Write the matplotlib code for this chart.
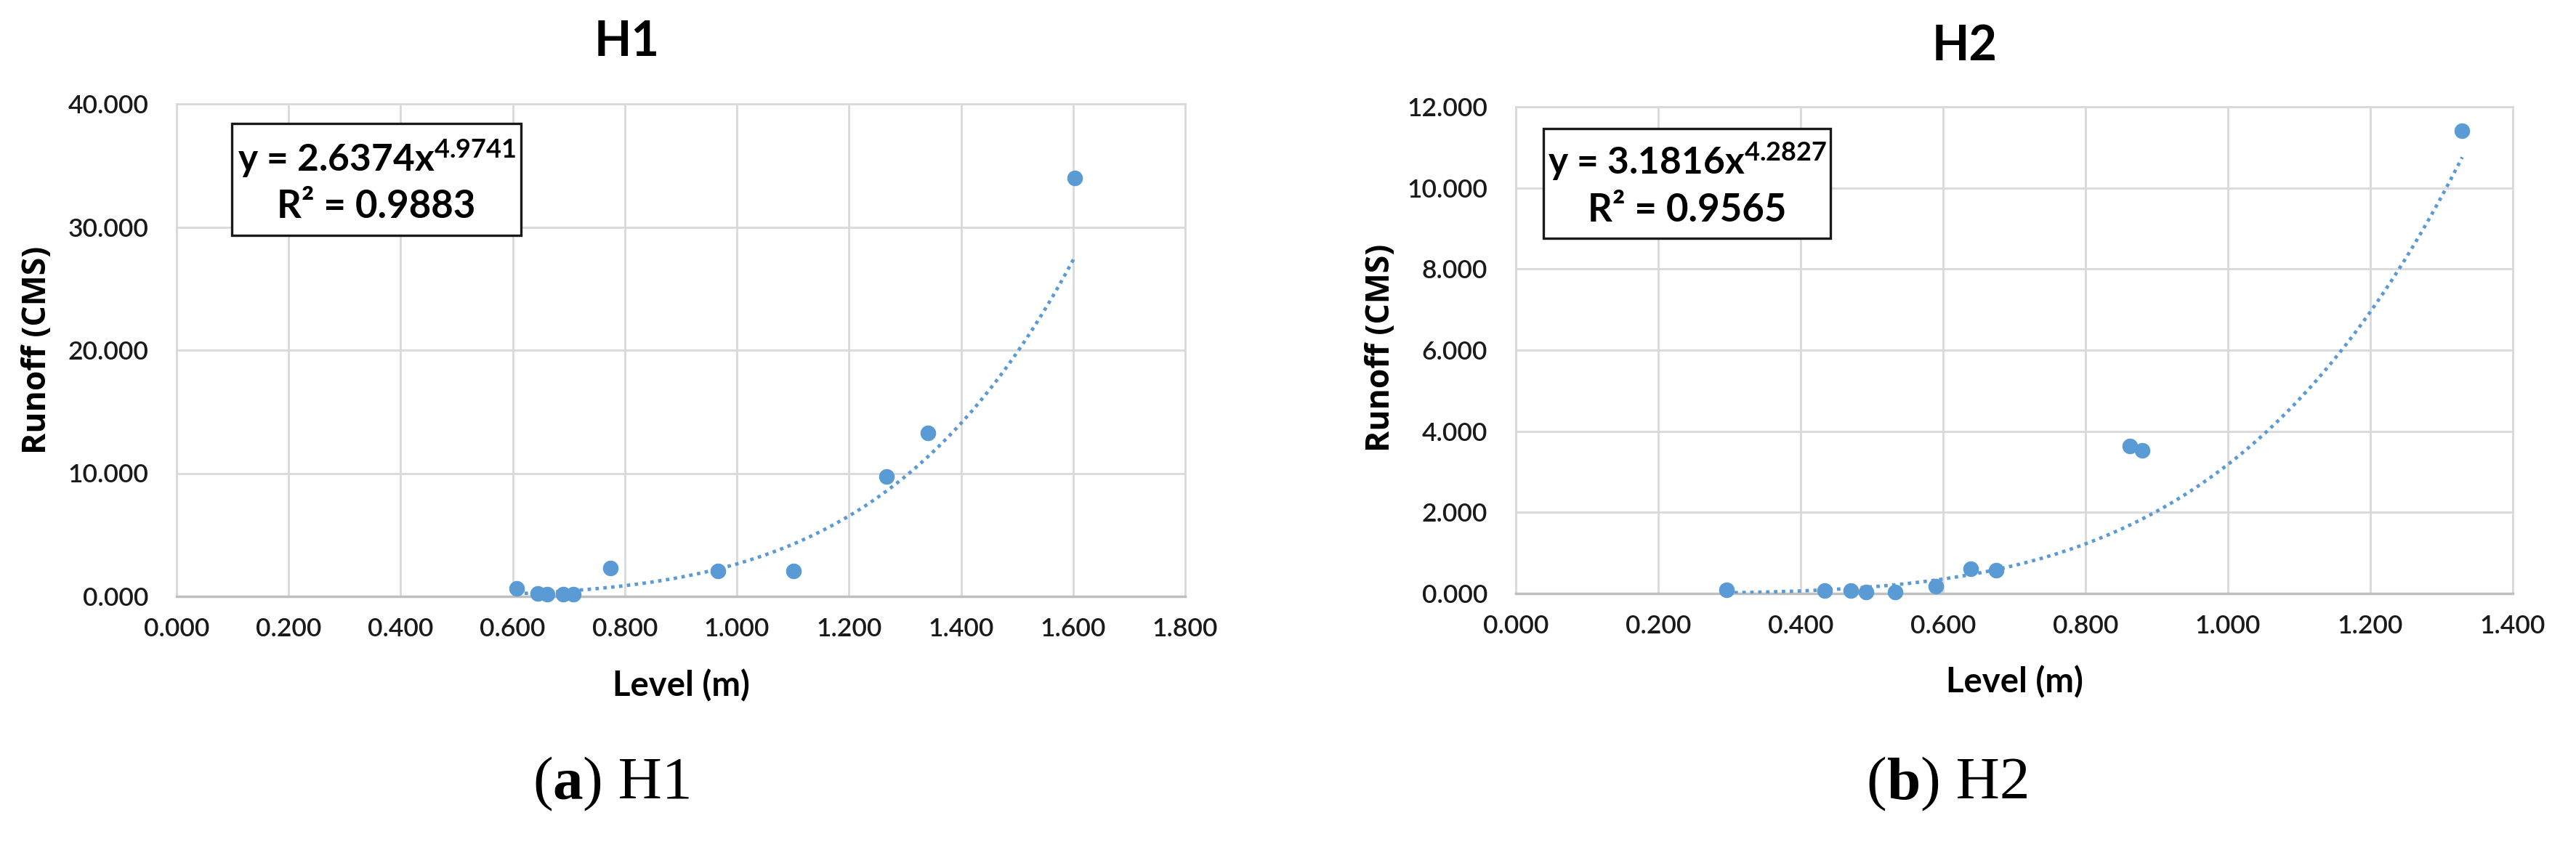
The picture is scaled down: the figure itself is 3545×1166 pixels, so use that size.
import numpy as np
import matplotlib
matplotlib.use("Agg")
import matplotlib.pyplot as plt
from matplotlib.patches import Rectangle
from matplotlib.offsetbox import TextArea, HPacker, AnchoredOffsetbox

# ---------------- data ----------------
h1_level = [0.607, 0.645, 0.662, 0.690, 0.708, 0.774, 0.966, 1.101, 1.267, 1.341, 1.603]
h1_runoff = [0.65, 0.25, 0.15, 0.15, 0.15, 2.29, 2.06, 2.06, 9.76, 13.30, 34.00]
h1_coef = (2.6374, 4.9741)
h1_r2 = 0.9883

h2_level = [0.296, 0.434, 0.470, 0.492, 0.533, 0.590, 0.639, 0.674, 0.862, 0.880, 1.329]
h2_runoff = [0.09, 0.08, 0.07, 0.04, 0.04, 0.18, 0.61, 0.58, 3.63, 3.52, 11.41]
h2_coef = (3.1816, 4.2827)
h2_r2 = 0.9565

h1_xticks = [0.0, 0.2, 0.4, 0.6, 0.8, 1.0, 1.2, 1.4, 1.6, 1.8]
h1_yticks = [0, 10, 20, 30, 40]
h2_xticks = [0.0, 0.2, 0.4, 0.6, 0.8, 1.0, 1.2, 1.4]
h2_yticks = [0, 2, 4, 6, 8, 10, 12]

titles = ["H1", "H2"]
captions = [("a", " H1"), ("b", " H2")]
xlabel = "Level (m)"
ylabel = "Runoff (CMS)"

# ---------------- style ----------------
plt.rcParams['font.family'] = ['Lato', 'DejaVu Sans']
plt.rcParams['mathtext.fontset'] = 'custom'
plt.rcParams['mathtext.rm'] = 'Lato:bold'
plt.rcParams['mathtext.bf'] = 'Lato:bold'
plt.rcParams['mathtext.it'] = 'Lato:bold'
plt.rcParams['mathtext.default'] = 'bf'

BLUE = '#5B9BD5'
GRID = '#D9D9D9'
W, H = 3545, 1166
DPI = 100
fig = plt.figure(figsize=(W / DPI, H / DPI), dpi=DPI)
fig.patch.set_facecolor('white')


def px2fig(x0, y0, x1, y1):
    return [x0 / W, 1 - y1 / H, (x1 - x0) / W, (y1 - y0) / H]


panels = [
    dict(rect=px2fig(243, 143, 1631, 821), x=h1_level, y=h1_runoff, coef=h1_coef, r2=h1_r2,
         xticks=h1_xticks, yticks=h1_yticks, title_xy=(863, 58), xlabel_xy=(937, 944),
         ylabel_xy=(51, 482), caption_xy=(843, 1080),
         box=(0.0548, 0.733, 0.3415, 0.960), line_y=(0.889, 0.791)),
    dict(rect=px2fig(2086, 147, 3458, 817), x=h2_level, y=h2_runoff, coef=h2_coef, r2=h2_r2,
         xticks=h2_xticks, yticks=h2_yticks, title_xy=(2704, 64), xlabel_xy=(2772, 939),
         ylabel_xy=(1900, 479), caption_xy=(2681, 1080),
         box=(0.0277, 0.730, 0.3156, 0.955), line_y=(0.888, 0.787)),
]

for i, p in enumerate(panels):
    ax = fig.add_axes(p['rect'])
    ax.set_xlim(p['xticks'][0], p['xticks'][-1])
    ax.set_ylim(p['yticks'][0], p['yticks'][-1])
    ax.set_xticks(p['xticks'])
    ax.set_yticks(p['yticks'])
    ax.set_xticklabels([f"{v:.3f}" for v in p['xticks']])
    ax.set_yticklabels([f"{v:.3f}" for v in p['yticks']])
    ax.tick_params(length=0, labelsize=25.5, colors='#1a1a1a')
    ax.tick_params(axis='x', pad=21)
    ax.tick_params(axis='y', pad=28)
    for lab in ax.get_xticklabels() + ax.get_yticklabels():
        lab.set_fontweight('semibold')
    ax.grid(True, color=GRID, lw=2.0)
    ax.set_axisbelow(True)
    for side in ['top', 'right', 'left']:
        ax.spines[side].set_color(GRID)
        ax.spines[side].set_linewidth(2.0)
    ax.spines['bottom'].set_color('#BFBFBF')
    ax.spines['bottom'].set_linewidth(2.5)

    # data points
    ax.plot(p['x'], p['y'], 'o', color=BLUE, markersize=15.5, markeredgewidth=0,
            zorder=3, clip_on=False)
    # power trendline
    a, b = p['coef']
    xs = np.linspace(min(p['x']), max(p['x']), 300)
    ax.plot(xs, a * xs ** b, color=BLUE, lw=3.4, linestyle=(0, (1, 1.3)), zorder=4)

    # equation box
    x0, y0, x1, y1 = p['box']
    ax.add_patch(Rectangle((x0, y0), x1 - x0, y1 - y0, transform=ax.transAxes,
                           facecolor='white', edgecolor='#1a1a1a', lw=2.4, zorder=5))
    cx = (x0 + x1) / 2
    ax.text(cx, p['line_y'][0], f"y = {a:.4f}x$^{{{b:.4f}}}$", transform=ax.transAxes,
            ha='center', va='center', fontsize=37, fontweight='bold', zorder=6)
    ax.text(cx, p['line_y'][1], f"R\u00b2 = {p['r2']:.4f}", transform=ax.transAxes,
            ha='center', va='center', fontsize=38, fontweight='bold', zorder=6)

    # titles & labels
    tx, ty = p['title_xy']
    fig.text(tx / W, 1 - ty / H, titles[i], ha='center', va='center', fontsize=48,
             fontweight='bold')
    lx, ly = p['xlabel_xy']
    fig.text(lx / W, 1 - ly / H, xlabel, ha='center', va='center', fontsize=34,
             fontweight='bold')
    yx, yy = p['ylabel_xy']
    fig.text(yx / W, 1 - yy / H, ylabel, ha='center', va='center', fontsize=32,
             fontweight='bold', rotation=90, family=['Open Sans', 'DejaVu Sans'])

    # caption with bold letter
    letter, rest = captions[i]
    serif = dict(family=['Liberation Serif', 'DejaVu Serif'], size=60, color='black')
    parts = [TextArea("(", textprops=serif),
             TextArea(letter, textprops=dict(serif, weight='bold')),
             TextArea(")" + rest, textprops=serif)]
    pack = HPacker(children=parts, align='baseline', pad=0, sep=0)
    cxp, cyp = p['caption_xy']
    anch = AnchoredOffsetbox(loc='center', child=pack, pad=0, frameon=False,
                             bbox_to_anchor=(cxp / W, 1 - cyp / H),
                             bbox_transform=fig.transFigure, borderpad=0)
    fig.add_artist(anch)

fig.savefig("out.png", dpi=DPI, facecolor='white')
